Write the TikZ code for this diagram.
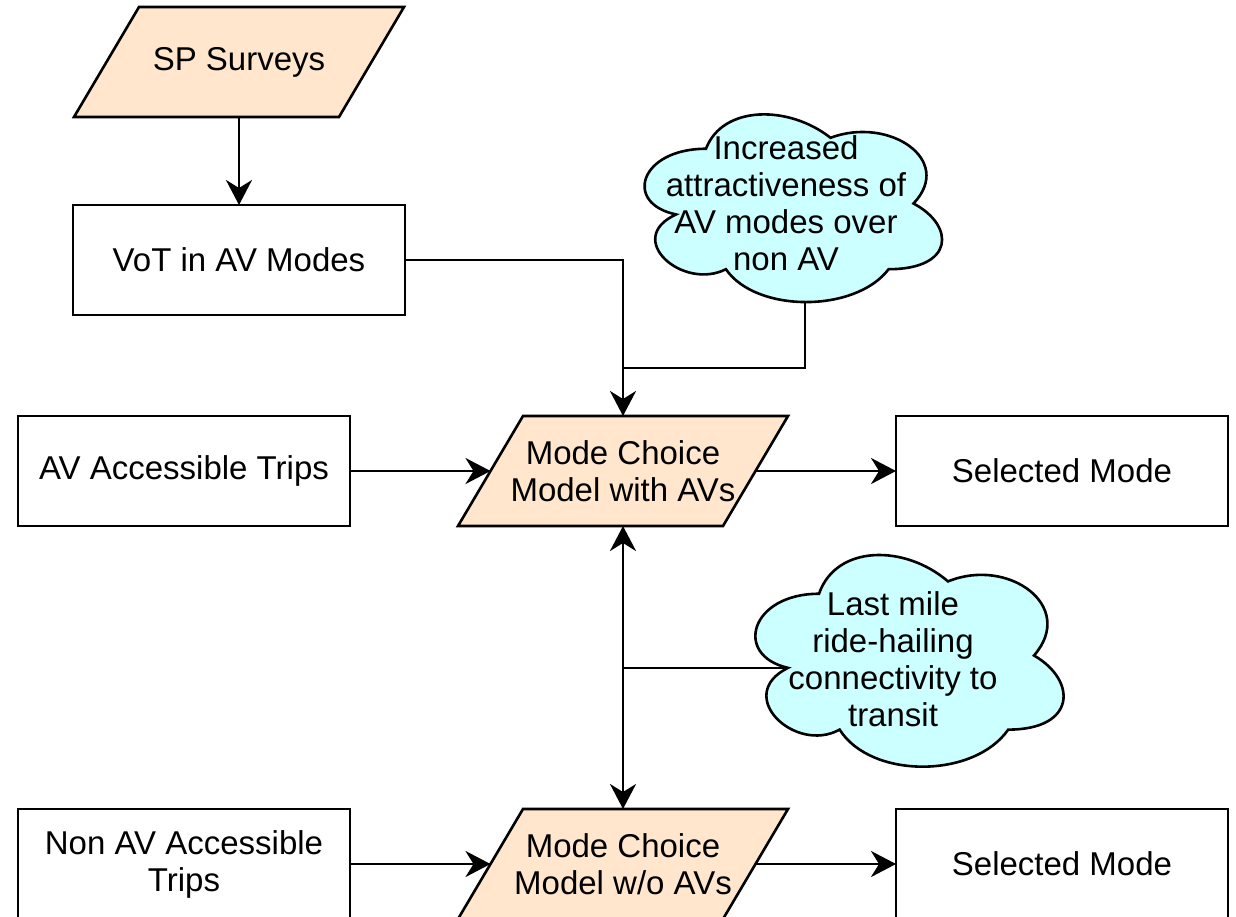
\documentclass[tikz,border=0pt]{standalone}
\usepackage{fontspec}
\setmainfont{Liberation Sans}
\usetikzlibrary{arrows.meta,calc,backgrounds}

\definecolor{peach}{HTML}{FFE6CC}
\definecolor{sky}{HTML}{CCFFFF}

\tikzset{
  base/.style={font=\fontsize{33}{37}\selectfont, align=center, inner sep=0pt, outer sep=0pt},
  procbox/.style={base, draw, line width=2.6pt, fill=white, minimum width=332pt, minimum height=110pt},
  iotext/.style={base, minimum width=265pt, minimum height=110pt},
  iofill/.style={draw, line width=2.6pt, fill=peach, line join=miter},
  cloudtext/.style={base},
  cloudfill/.style={draw, line width=2.6pt, fill=sky},
  link/.style={line width=2.6pt},
  tip/.tip={Stealth[length=25pt,width=26pt,inset=8pt]},
  arr/.style={link, -tip},
  dblarr/.style={link, tip-tip},
}

% parallelogram behind an input/output node
\newcommand\iobox[1]{%
  \draw[iofill] ($(#1.south west)+(-32.5,0)$) -- ($(#1.south east)+(-32.5,0)$)
    -- ($(#1.north east)+(32.5,0)$) -- ($(#1.north west)+(32.5,0)$) -- cycle;}

% cloud outline in a box with top-left corner (#1,#2), width #3, height #4
\newcommand\cloudpath[4]{%
  \begin{scope}[shift={(#1,#2)}, x=#3pt, y=-#4pt]
    \draw[cloudfill] (0.25,0.25) .. controls (0.05,0.25) and (0,0.5) .. (0.16,0.55)
      .. controls (0,0.66) and (0.18,0.9) .. (0.31,0.8)
      .. controls (0.4,1) and (0.7,1) .. (0.8,0.8)
      .. controls (1,0.8) and (1,0.6) .. (0.875,0.5)
      .. controls (1,0.3) and (0.8,0.1) .. (0.625,0.2)
      .. controls (0.5,0.05) and (0.3,0.05) .. (0.25,0.25) -- cycle;
  \end{scope}}

\begin{document}
\begin{tikzpicture}[x=1pt, y=-1pt]
  \useasboundingbox (0,0) rectangle (1236,916);
  \clip (0,0) rectangle (1236,916);

  % input / output nodes
  \node[iotext] (sp)  at (239,62)  {SP Surveys};
  \node[iotext] (mc1) at (623,471) {Mode Choice\\Model with AVs};
  \node[iotext] (mc2) at (623,864) {Mode Choice\\Model w/o AVs};

  % process boxes
  \node[procbox] (vot)  at (239,260)  {VoT in AV Modes};
  \node[procbox] (avt)  at (184,471)  {AV Accessible Trips};
  \node[procbox] (sel1) at (1062,471) {Selected Mode};
  \node[procbox] (navt) at (184,864)  {Non AV Accessible\\Trips};
  \node[procbox] (sel2) at (1062,864) {Selected Mode};

  % annotation clouds
  \node[cloudtext] (c1) at (786,203) {Increased\\attractiveness of\\AV modes over\\non AV};
  \node[cloudtext] (c2) at (893,659) {Last mile\\ride-hailing\\connectivity to\\transit};

  \begin{pgfonlayer}{background}
    \fill[white] (0,0) rectangle (1236,916);
    \iobox{sp}
    \iobox{mc1}
    \iobox{mc2}
    \cloudpath{623}{94}{332}{219}
    \cloudpath{733}{532}{344}{247}
  \end{pgfonlayer}

  % connector end points
  \coordinate (c1tail) at (805,302);
  \coordinate (j1) at (623,368);
  \coordinate (c2cusp) at (788,668);
  \coordinate (j2) at (623,668);

  % connectors
  \draw[arr] (sp.south) -- (vot.north);
  \draw[arr] (vot.east) -| (mc1.north);
  \draw[link] (c1tail) |- (j1);
  \draw[arr] (avt.east) -- (mc1.west);
  \draw[arr] (mc1.east) -- (sel1.west);
  \draw[dblarr] (mc1.south) -- (mc2.north);
  \draw[link] (c2cusp) -- (j2);
  \draw[arr] (navt.east) -- (mc2.west);
  \draw[arr] (mc2.east) -- (sel2.west);
\end{tikzpicture}
\end{document}
